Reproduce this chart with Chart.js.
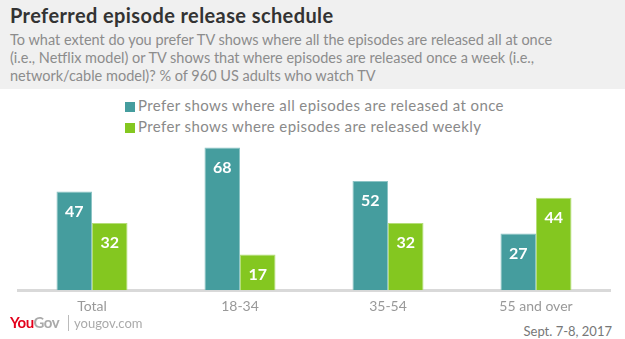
<!DOCTYPE html>
<html>
<head>
<meta charset="utf-8">
<script src="https://cdn.jsdelivr.net/npm/chart.js@4"></script>
<style>
  body { margin: 0; width: 625px; height: 339px; background: #fff; font-family: Lato, "Open Sans", sans-serif; position: relative; overflow: hidden; }
  .header { position: absolute; left: 0; top: 0; width: 625px; height: 89px; background: #f0f0f0; }
  .title { position: absolute; left: 10px; top: 3px; font-size: 20px; font-weight: bold; color: #333; letter-spacing: 0.4px; }
  .subtitle { position: absolute; left: 10px; top: 31px; width: 615px; font-size: 14.5px; line-height: 18px; color: #8c8c8c; white-space: nowrap; }
  .legend { position: absolute; left: 125px; top: 95px; font-size: 15px; color: #8a8a8a; line-height: 21px; letter-spacing: 0.4px; }
  .legend span.box { display: inline-block; width: 10px; height: 10px; margin-right: 3px; vertical-align: -1px; }
  .chartbox { position: absolute; left: 0; top: 131px; width: 625px; height: 184px; }
  .logo { position: absolute; left: 10px; top: 313px; font-size: 15px; font-weight: bold; letter-spacing: -0.5px; }
  .logo .you { color: #e3001b; }
  .logo .gov { color: #aaa; }
  .site { position: absolute; left: 68px; top: 315px; font-size: 13px; color: #aaa; border-left: 1px solid #bbb; padding-left: 5px; }
  .date { position: absolute; right: 13px; top: 323px; font-size: 13px; color: #777; }
</style>
</head>
<body>
<div class="header">
  <div class="title">Preferred episode release schedule</div>
  <div class="subtitle">To what extent do you prefer TV shows where all the episodes are released all at once<br>(i.e., Netflix model) or TV shows that where episodes are released once a week (i.e.,<br>network/cable model)? % of 960 US adults who watch TV</div>
</div>
<div class="legend" id="legend"></div>
<div class="chartbox"><canvas id="chart"></canvas></div>
<div class="logo"><span class="you">You</span><span class="gov">Gov</span></div>
<div class="site">yougov.com</div>
<div class="date">Sept. 7-8, 2017</div>
<script>
const categories = ['Total', '18-34', '35-54', '55 and over'];
const seriesNames = ['Prefer shows where all episodes are released at once', 'Prefer shows where episodes are released weekly'];
const allAtOnce = [47, 68, 52, 27];
const weekly = [32, 17, 32, 44];
const colors = ['#459d9e', '#84c720'];
const borders = ['#8cc4c5', '#b5de78'];

const barLabels = {
    id: 'barLabels',
    afterDatasetsDraw(chart) {
        const ctx = chart.ctx;
        ctx.save();
        ctx.fillStyle = '#fff';
        ctx.font = 'bold 16px Lato, "Open Sans", sans-serif';
        ctx.textAlign = 'center';
        ctx.textBaseline = 'middle';
        chart.data.datasets.forEach((ds, i) => {
            chart.getDatasetMeta(i).data.forEach((bar, j) => {
                ctx.fillText(ds.data[j], bar.x, bar.y + 20);
            });
        });
        ctx.restore();
    }
};

document.addEventListener('DOMContentLoaded', () => {
    const legend = document.getElementById('legend');
    seriesNames.forEach((name, i) => {
        const row = document.createElement('div');
        row.innerHTML = '<span class="box" style="background:' + colors[i] + '"></span>' + name;
        legend.appendChild(row);
    });

    new Chart(document.getElementById('chart'), {
        type: 'bar',
        data: {
            labels: categories,
            datasets: [
                { label: seriesNames[0], data: allAtOnce, backgroundColor: colors[0], borderColor: borders[0], borderWidth: 1 },
                { label: seriesNames[1], data: weekly, backgroundColor: colors[1], borderColor: borders[1], borderWidth: 1 }
            ]
        },
        options: {
            responsive: true,
            maintainAspectRatio: false,
            animation: false,
            layout: { padding: { left: 18, right: 15, top: 6, bottom: 0 } },
            categoryPercentage: 0.48,
            barPercentage: 1.0,
            plugins: {
                legend: { display: false },
                tooltip: { enabled: false }
            },
            scales: {
                x: {
                    grid: { display: false },
                    border: { color: '#d9d9d9', width: 3 },
                    ticks: { color: '#999', font: { size: 14, family: 'Lato, "Open Sans", sans-serif' }, padding: 0 }
                },
                y: {
                    display: false,
                    min: 0,
                    max: 73
                }
            }
        },
        plugins: [barLabels]
    });
});
</script>
</body>
</html>
